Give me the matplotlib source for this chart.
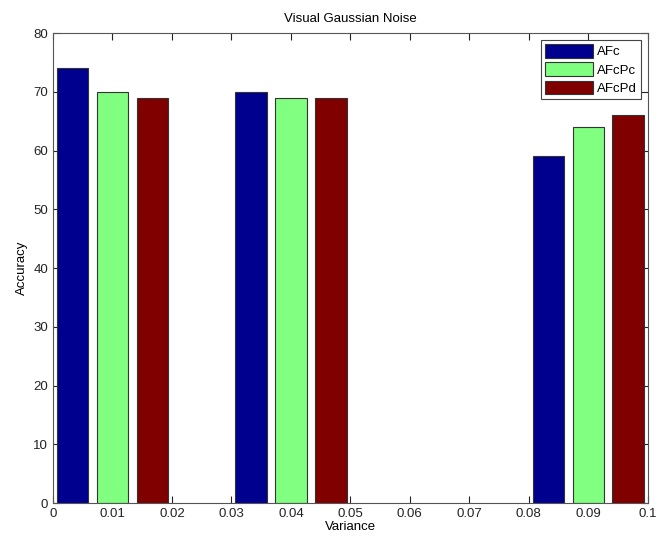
import numpy as np
import matplotlib.pyplot as plt

# Data
variance = [0.01, 0.04, 0.09]
afc = [74, 70, 59]
afcpc = [70, 69, 64]
afcpd = [69, 69, 66]
series = ['AFc', 'AFcPc', 'AFcPd']
colors = ['#00008f', '#80ff80', '#800000']

plt.rcParams['font.family'] = ['Liberation Sans', 'DejaVu Sans']

fig = plt.figure(figsize=(6.59, 5.41), dpi=100)
ax = fig.add_axes([0.0804, 0.0702, 0.9026, 0.8688])

x = np.array(variance)
step = 0.0067
width = 0.0053
for i, (vals, name, col) in enumerate(zip([afc, afcpc, afcpd], series, colors)):
    ax.bar(x + (i - 1) * step, vals, width, color=col, edgecolor='#333333',
           linewidth=0.8, label=name, zorder=2)

ax.set_xlim(0, 0.1)
ax.set_ylim(0, 80)
ax.set_xticks(np.arange(0, 0.101, 0.01))
ax.set_xticklabels(['0', '0.01', '0.02', '0.03', '0.04', '0.05', '0.06',
                    '0.07', '0.08', '0.09', '0.1'])
ax.set_yticks(range(0, 81, 10))
ax.tick_params(direction='in', top=True, right=True, length=5, labelsize=9.5,
               width=0.8, colors='#222222')
for s in ax.spines.values():
    s.set_linewidth(0.8)
    s.set_color('#555555')

ax.set_title('Visual Gaussian Noise', fontsize=9.5, pad=8)
ax.set_xlabel('Variance', fontsize=9.5, labelpad=1)
ax.set_ylabel('Accuracy', fontsize=9.5, labelpad=4)

leg = ax.legend(loc='upper right', fontsize=9.5, fancybox=False, framealpha=1,
                edgecolor='#444444', handlelength=3.6, handleheight=1.2,
                borderpad=0.35, labelspacing=0.3, handletextpad=0.3,
                borderaxespad=0.5)
leg.get_frame().set_linewidth(0.8)

fig.savefig('out.png', dpi=100)
